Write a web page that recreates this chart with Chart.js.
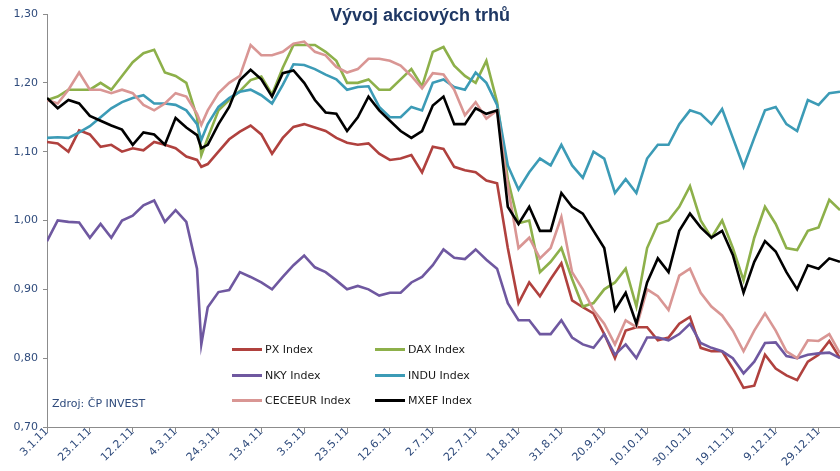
<!DOCTYPE html>
<html lang="cs">
<head>
<meta charset="UTF-8">
<title>Vývoj akciových trhů</title>
<script src="https://cdn.jsdelivr.net/npm/chart.js"></script>
<style>
    html, body { margin: 0; padding: 0; background: #fff; }
    .wrap { position: relative; width: 840px; height: 471px; }
    .title {
        position: absolute; top: 5px; left: 0; width: 840px; text-align: center;
        font: bold 18px "Liberation Sans", Arial, sans-serif; color: #1F3864;
    }
    .source {
        position: absolute; left: 52px; top: 397px;
        font: 11px "DejaVu Sans", sans-serif; color: #2F4B7C;
    }
    .legend-item {
        position: absolute; font: 11px "DejaVu Sans", sans-serif; color: #1a1a1a;
        display: flex; align-items: center; height: 14px;
    }
    .legend-item span.swatch { display: inline-block; width: 30px; height: 3px; margin-right: 3px; }
</style>
</head>
<body>
<div class="wrap">
    <canvas id="chart" width="840" height="471"></canvas>
    <div class="title">Vývoj akciových trhů</div>
    <div class="source">Zdroj: ČP INVEST</div>
    <div id="legend"></div>
</div>
<script>
// days since 3.1.2011
const days = [0,5,10,15,20,25,30,35,40,45,50,55,60,65,70,72,75,80,85,90,95,100,105,110,115,120,125,130,135,140,145,150,155,160,165,170,175,180,185,190,195,200,205,210,215,220,225,230,235,240,245,250,255,260,265,270,275,280,285,290,295,300,305,310,315,320,325,330,335,340,345,350,355,360,365,370];
const tickLabels = ['3.1.11','23.1.11','12.2.11','4.3.11','24.3.11','13.4.11','3.5.11','23.5.11','12.6.11','2.7.11','22.7.11','11.8.11','31.8.11','20.9.11','10.10.11','30.10.11','19.11.11','9.12.11','29.12.11'];

const pxIndex = [1.114,1.112,1.100,1.131,1.125,1.107,1.110,1.100,1.105,1.102,1.114,1.110,1.105,1.093,1.088,1.078,1.082,1.100,1.118,1.129,1.138,1.125,1.097,1.120,1.136,1.140,1.135,1.130,1.120,1.113,1.110,1.112,1.097,1.088,1.090,1.095,1.070,1.107,1.104,1.078,1.073,1.070,1.058,1.054,0.960,0.880,0.910,0.890,0.915,0.938,0.884,0.874,0.865,0.835,0.800,0.840,0.845,0.845,0.826,0.830,0.850,0.860,0.815,0.810,0.810,0.785,0.757,0.760,0.805,0.785,0.775,0.768,0.795,0.805,0.825,0.800];
const daxIndex = [1.175,1.180,1.190,1.190,1.190,1.200,1.190,1.210,1.230,1.243,1.248,1.215,1.210,1.200,1.150,1.095,1.120,1.160,1.175,1.188,1.204,1.209,1.183,1.222,1.255,1.255,1.255,1.245,1.232,1.200,1.200,1.205,1.190,1.190,1.205,1.220,1.195,1.245,1.252,1.225,1.210,1.200,1.232,1.172,1.060,0.996,1.000,0.925,0.940,0.960,0.915,0.875,0.880,0.900,0.910,0.930,0.875,0.960,0.995,1.000,1.020,1.050,1.000,0.975,1.000,0.960,0.913,0.975,1.020,0.995,0.960,0.957,0.985,0.990,1.030,1.015];
const nkyIndex = [0.970,1.000,0.998,0.997,0.975,0.995,0.975,1.000,1.007,1.022,1.029,0.998,1.015,0.998,0.930,0.820,0.874,0.896,0.899,0.925,0.918,0.910,0.900,0.918,0.935,0.949,0.932,0.925,0.913,0.900,0.905,0.900,0.891,0.895,0.895,0.910,0.918,0.935,0.958,0.946,0.944,0.958,0.943,0.930,0.880,0.855,0.855,0.835,0.835,0.855,0.830,0.820,0.815,0.835,0.805,0.820,0.800,0.830,0.830,0.826,0.835,0.850,0.822,0.815,0.810,0.800,0.778,0.795,0.822,0.823,0.803,0.800,0.805,0.807,0.808,0.800];
const induIndex = [1.120,1.121,1.120,1.128,1.137,1.150,1.163,1.172,1.178,1.182,1.170,1.170,1.168,1.160,1.140,1.117,1.140,1.165,1.178,1.187,1.190,1.182,1.170,1.197,1.227,1.226,1.220,1.212,1.205,1.190,1.194,1.195,1.165,1.150,1.150,1.165,1.160,1.200,1.205,1.194,1.190,1.215,1.200,1.168,1.080,1.045,1.070,1.090,1.080,1.110,1.080,1.062,1.100,1.090,1.040,1.060,1.040,1.090,1.110,1.110,1.140,1.160,1.155,1.140,1.162,1.120,1.078,1.120,1.160,1.165,1.140,1.130,1.175,1.168,1.185,1.187];
const ceceurIndex = [1.175,1.170,1.190,1.215,1.190,1.190,1.185,1.190,1.185,1.168,1.160,1.170,1.185,1.180,1.155,1.139,1.160,1.185,1.200,1.210,1.255,1.240,1.240,1.245,1.257,1.260,1.245,1.240,1.223,1.215,1.220,1.235,1.235,1.232,1.225,1.210,1.192,1.214,1.212,1.190,1.153,1.172,1.148,1.160,1.050,0.960,0.975,0.945,0.960,1.005,0.925,0.900,0.870,0.850,0.820,0.855,0.845,0.900,0.890,0.870,0.920,0.930,0.895,0.875,0.862,0.840,0.810,0.840,0.865,0.840,0.810,0.800,0.826,0.825,0.835,0.807];
const mxefIndex = [1.178,1.163,1.175,1.170,1.152,1.145,1.138,1.132,1.110,1.128,1.125,1.110,1.149,1.135,1.124,1.105,1.110,1.140,1.165,1.204,1.219,1.205,1.180,1.214,1.218,1.200,1.175,1.157,1.155,1.130,1.150,1.180,1.160,1.145,1.130,1.120,1.130,1.167,1.180,1.140,1.140,1.163,1.155,1.160,1.020,0.995,1.020,0.985,0.985,1.040,1.020,1.010,0.985,0.960,0.870,0.895,0.850,0.910,0.945,0.925,0.985,1.010,0.990,0.975,0.985,0.950,0.895,0.940,0.970,0.955,0.925,0.900,0.935,0.930,0.945,0.940];

const seriesNames = ['PX Index','DAX Index','NKY Index','INDU Index','CECEEUR Index','MXEF Index'];
const seriesValues = [pxIndex, daxIndex, nkyIndex, induIndex, ceceurIndex, mxefIndex];
const seriesColors = ['#B0413E','#8DB04A','#6F58A0','#3C9BB6','#D99694','#000000'];

const datasets = seriesNames.map((name, i) => ({
    label: name,
    data: days.map((d, j) => ({ x: d, y: seriesValues[i][j] })),
    borderColor: seriesColors[i],
    borderWidth: 2.6,
    pointRadius: 0,
    tension: 0,
    fill: false,
    order: seriesNames.length - i
}));

const tickColor = '#2F4B7C';
const axisColor = '#8c8c8c';

new Chart(document.getElementById('chart').getContext('2d'), {
    type: 'line',
    data: { datasets: datasets },
    options: {
        responsive: false,
        animation: false,
        layout: { padding: { top: 14, right: 0, left: 0, bottom: 0 } },
        plugins: {
            legend: { display: false },
            title: { display: false },
            tooltip: { enabled: false }
        },
        scales: {
            x: {
                type: 'linear',
                min: 0,
                max: 370,
                afterBuildTicks: scale => {
                    scale.ticks = scale.ticks.filter(t => t.value % 20 === 0 && t.value <= 360);
                },
                afterFit: scale => { scale.height = 44; },
                ticks: {
                    stepSize: 20,
                    autoSkip: false,
                    minRotation: 45,
                    maxRotation: 45,
                    padding: -7,
                    color: tickColor,
                    font: { family: 'DejaVu Sans', size: 11 },
                    callback: v => tickLabels[v / 20]
                },
                grid: { drawOnChartArea: false, tickLength: 5, color: axisColor },
                border: { color: axisColor, width: 1 }
            },
            y: {
                min: 0.7,
                max: 1.3,
                afterFit: scale => { scale.width = 47; },
                ticks: {
                    stepSize: 0.1,
                    padding: 5,
                    color: tickColor,
                    font: { family: 'DejaVu Sans', size: 11 },
                    callback: v => v.toFixed(2).replace('.', ',')
                },
                grid: { drawOnChartArea: false, tickLength: 4, color: axisColor },
                border: { color: axisColor, width: 1 }
            }
        }
    }
});

// legend placed inside the plot, two columns
const legendPos = [[232, 342], [375, 342], [232, 368], [375, 368], [232, 393], [375, 393]];
const legendEl = document.getElementById('legend');
seriesNames.forEach((name, k) => {
    const item = document.createElement('div');
    item.className = 'legend-item';
    item.style.left = legendPos[k][0] + 'px';
    item.style.top = legendPos[k][1] + 'px';
    item.innerHTML = '<span class="swatch" style="background:' + seriesColors[k] + '"></span>' + name;
    legendEl.appendChild(item);
});
</script>
</body>
</html>
